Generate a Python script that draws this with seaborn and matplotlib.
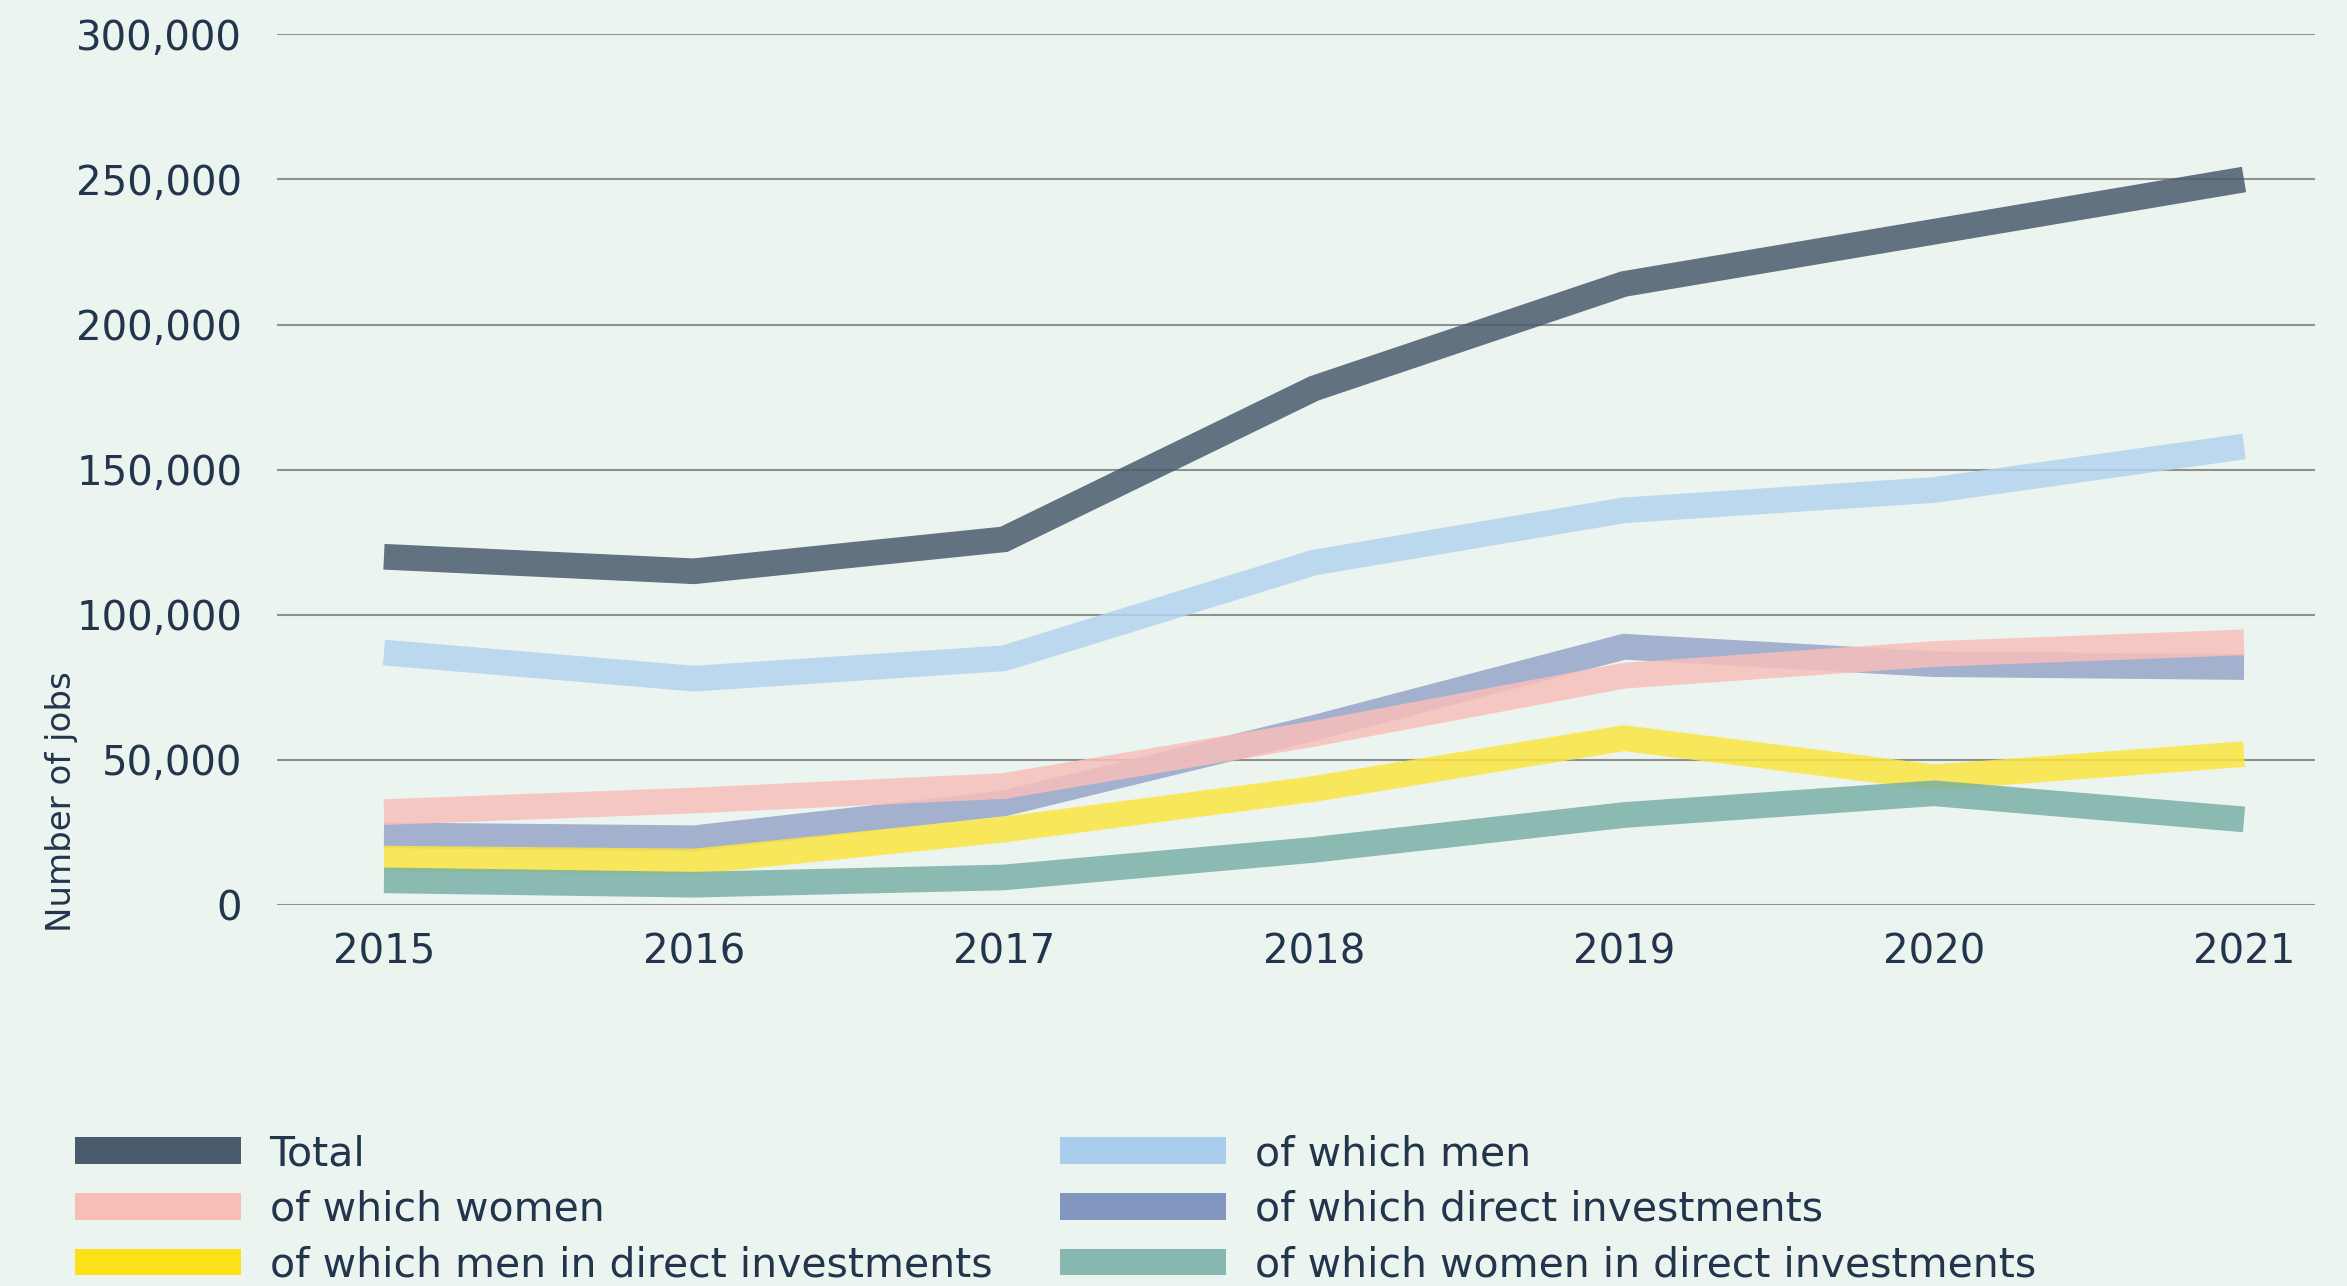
import matplotlib
matplotlib.use("Agg")
import matplotlib.pyplot as plt
from matplotlib.patches import Patch
from matplotlib.ticker import FuncFormatter
import seaborn as sns
import pandas as pd

# Jobs supported per year
years = [2015, 2016, 2017, 2018, 2019, 2020, 2021]
total = [120000, 115000, 126000, 178000, 214000, 232000, 250000]
men = [87000, 78000, 85000, 118000, 136000, 143000, 158000]
women = [32000, 36000, 41000, 59000, 79000, 86500, 90500]
direct = [24000, 23000, 35000, 61000, 89000, 83000, 82000]
men_direct = [16000, 15000, 26000, 40000, 57500, 44000, 52000]
women_direct = [8500, 7000, 9500, 19000, 31000, 38500, 29500]

labels = {
    "total": "Total",
    "men": "of which men",
    "women": "of which women",
    "direct": "of which direct investments",
    "men_direct": "of which men in direct investments",
    "women_direct": "of which women in direct investments",
}
series = {
    "total": total, "men": men, "direct": direct,
    "women": women, "men_direct": men_direct, "women_direct": women_direct,
}

# line colours (drawn translucent) and solid legend swatches
line_colors = {
    "total": "#4A5B6C", "men": "#B3D3EE", "direct": "#96A4C8",
    "women": "#F7BFBB", "men_direct": "#FBE540", "women_direct": "#79B0A6",
}
swatch_colors = {
    "total": "#4A5B6C", "men": "#A9CDED", "direct": "#8396BF",
    "women": "#F8BDB7", "men_direct": "#FDE118", "women_direct": "#87B8AF",
}
draw_order = ["total", "men", "direct", "women", "men_direct", "women_direct"]

rows = []
for key in draw_order:
    for y, v in zip(years, series[key]):
        rows.append({"year": y, "jobs": v, "series": labels[key]})
df = pd.DataFrame(rows)

BG = "#ECF4F0"
TEXT = "#22354D"
GRID = "#8D918F"

sns.set_theme(style="white")
plt.rcParams["font.family"] = ["DejaVu Sans"]

fig = plt.figure(figsize=(23.47, 12.86), dpi=100, facecolor=BG)
ax = fig.add_axes([277 / 2347, 1 - 905 / 1286, (2315 - 277) / 2347, (905 - 34.4) / 1286])
ax.set_facecolor(BG)

sns.lineplot(
    data=df, x="year", y="jobs", hue="series",
    hue_order=[labels[k] for k in draw_order],
    palette=[line_colors[k] for k in draw_order],
    linewidth=18.5, alpha=0.85, legend=False, ax=ax, zorder=3,
)
for ln in ax.lines:
    ln.set_solid_joinstyle("miter")
    ln.set_solid_capstyle("butt")

ax.set_ylim(0, 300000)
ax.set_xlim(2014.655, 2021.229)
ax.set_yticks(range(0, 300001, 50000))
ax.set_xticks(years)
ax.yaxis.set_major_formatter(FuncFormatter(lambda v, p: f"{int(v):,}"))
ax.grid(axis="y", color=GRID, linewidth=1.5, zorder=0)
ax.grid(axis="x", visible=False)
for s in ax.spines.values():
    s.set_visible(False)
ax.tick_params(axis="both", length=0, labelsize=29, colors=TEXT)
ax.tick_params(axis="y", pad=25)
ax.tick_params(axis="x", pad=20)
ax.set_xlabel("")
ax.set_ylabel("")

fig.text(61 / 2347, 1 - 802 / 1286, "Number of jobs", rotation=90,
         ha="center", va="center", fontsize=24.5, color=TEXT)

def make_legend(keys, x):
    handles = [Patch(facecolor=swatch_colors[k], edgecolor="none", label=labels[k]) for k in keys]
    leg = fig.legend(
        handles=handles, loc="upper left", bbox_to_anchor=(x, 0.118),
        frameon=False, fontsize=29.5, borderpad=0, borderaxespad=0,
        handlelength=4.05, handleheight=0.63, handletextpad=0.7, labelspacing=0.38,
    )
    for t in leg.get_texts():
        t.set_color(TEXT)
    return leg

make_legend(["total", "women", "men_direct"], 75 / 2347)
make_legend(["men", "direct", "women_direct"], 1060 / 2347)

fig.savefig("out.png", dpi=100, facecolor=BG)
